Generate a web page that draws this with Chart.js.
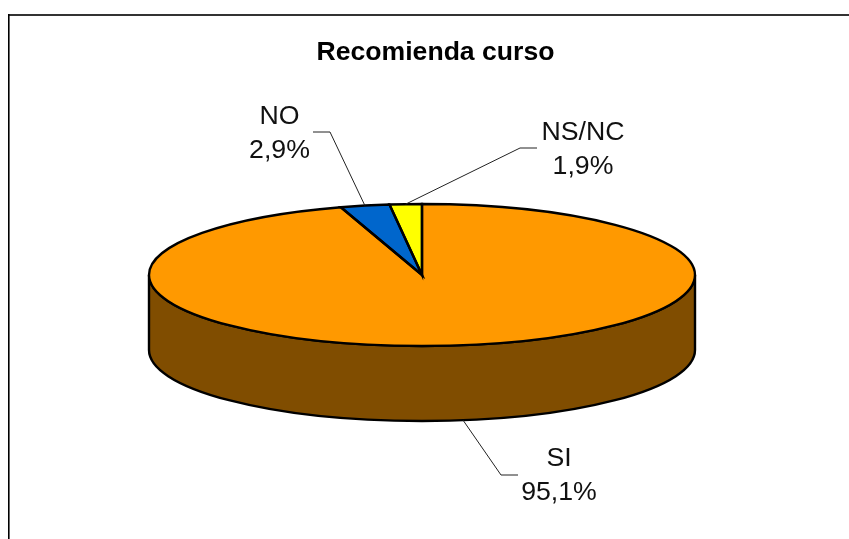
<!DOCTYPE html>
<html><head><meta charset="utf-8">
<style>html,body{margin:0;padding:0;background:#fff;overflow:hidden}canvas{display:block}</style>
<script src="https://cdn.jsdelivr.net/npm/chart.js@4"></script>
</head><body><canvas id="c" width="849" height="539"></canvas>
<script>
const titleText = "Recomienda curso";
const categories = ["SI", "NO", "NS/NC"];
const values = [95.1, 2.9, 1.9];
const valueLabels = ["95,1%", "2,9%", "1,9%"];
const colors = ["#FF9900", "#0066CC", "#FFFF00"];
const sideColor = "#804D00";

const disc = {cx: 422, cy: 275, rx: 273, ry: 71, depth: 75};
const labelFont = '26.7px "Liberation Sans"';
// per slice: elbow of the leader, end of the leader, text centre, first line baseline
const labelLayout = [
  {elbow: [501, 475], end: [518, 475], tx: 559, ty: 466, onSide: true},
  {elbow: [330, 132], end: [313, 132], tx: 279.5, ty: 124},
  {elbow: [520, 148], end: [537, 148], tx: 583, ty: 140}
];

const pie3d = {
  id: "pie3d",
  beforeDraw(chart) {
    const c = chart.ctx;
    c.save();
    c.strokeStyle = "#333"; c.lineWidth = 2;
    c.beginPath();
    c.moveTo(8, 15); c.lineTo(849, 15); c.stroke();
    c.strokeStyle = "#000"; c.lineWidth = 1.6;
    c.beginPath();
    c.moveTo(8.8, 14); c.lineTo(8.8, 539); c.stroke();
    c.restore();
  },
  afterLayout(chart) {
    const t = chart.titleBlock;
    t.left += 11; t.right += 11;
  },
  beforeDatasetsDraw(chart) {
    const c = chart.ctx, d = disc;
    c.save();
    c.fillStyle = sideColor; c.strokeStyle = "#000"; c.lineWidth = 2.4;
    c.beginPath();
    c.ellipse(d.cx, d.cy, d.rx, d.ry, 0, 0, Math.PI);
    c.lineTo(d.cx - d.rx, d.cy + d.depth);
    c.ellipse(d.cx, d.cy + d.depth, d.rx, d.ry, 0, Math.PI, 0, true);
    c.closePath();
    c.fill(); c.stroke();
    c.restore();
    const a = chart.getDatasetMeta(0).data[0];
    const R = a.outerRadius;
    c.save();
    c.translate(d.cx, d.cy);
    c.scale(d.rx / R, d.ry / R);
    c.translate(-a.x, -a.y);
  },
  afterDatasetsDraw(chart) {
    const c = chart.ctx, d = disc;
    c.restore();
    const arcs = chart.getDatasetMeta(0).data;
    c.save();
    c.strokeStyle = "#000"; c.lineWidth = 2.4; c.lineJoin = "miter";
    arcs.forEach(a => {
      c.beginPath();
      c.moveTo(d.cx, d.cy);
      c.ellipse(d.cx, d.cy, d.rx, d.ry, 0, a.startAngle, a.endAngle);
      c.closePath();
      c.stroke();
    });
    // leaders and labels
    arcs.forEach((a, i) => {
      const L = labelLayout[i], m = (a.startAngle + a.endAngle) / 2;
      const ax = d.cx + d.rx * Math.cos(m);
      const ay = d.cy + d.ry * Math.sin(m) + (L.onSide ? d.depth : 0);
      c.strokeStyle = "#222"; c.lineWidth = 1;
      c.beginPath();
      c.moveTo(ax, ay); c.lineTo(L.elbow[0], L.elbow[1]); c.lineTo(L.end[0], L.end[1]);
      c.stroke();
      c.fillStyle = "#111"; c.font = labelFont;
      c.textAlign = "center"; c.textBaseline = "alphabetic";
      c.fillText(categories[i], L.tx, L.ty);
      c.fillText(valueLabels[i], L.tx, L.ty + 34);
    });
    c.restore();
  }
};

new Chart(document.getElementById("c"), {
  type: "pie",
  data: {labels: categories, datasets: [{data: values, backgroundColor: colors, borderWidth: 0}]},
  plugins: [pie3d],
  options: {
    responsive: false, animation: false,
    plugins: {
      legend: {display: false}, tooltip: {enabled: false},
      title: {display: true, text: titleText, color: "#000",
        font: {family: '"Liberation Sans"', size: 26.6, weight: "bold"},
        padding: {top: 37, bottom: 10}}
    }
  }
});
</script></body></html>
